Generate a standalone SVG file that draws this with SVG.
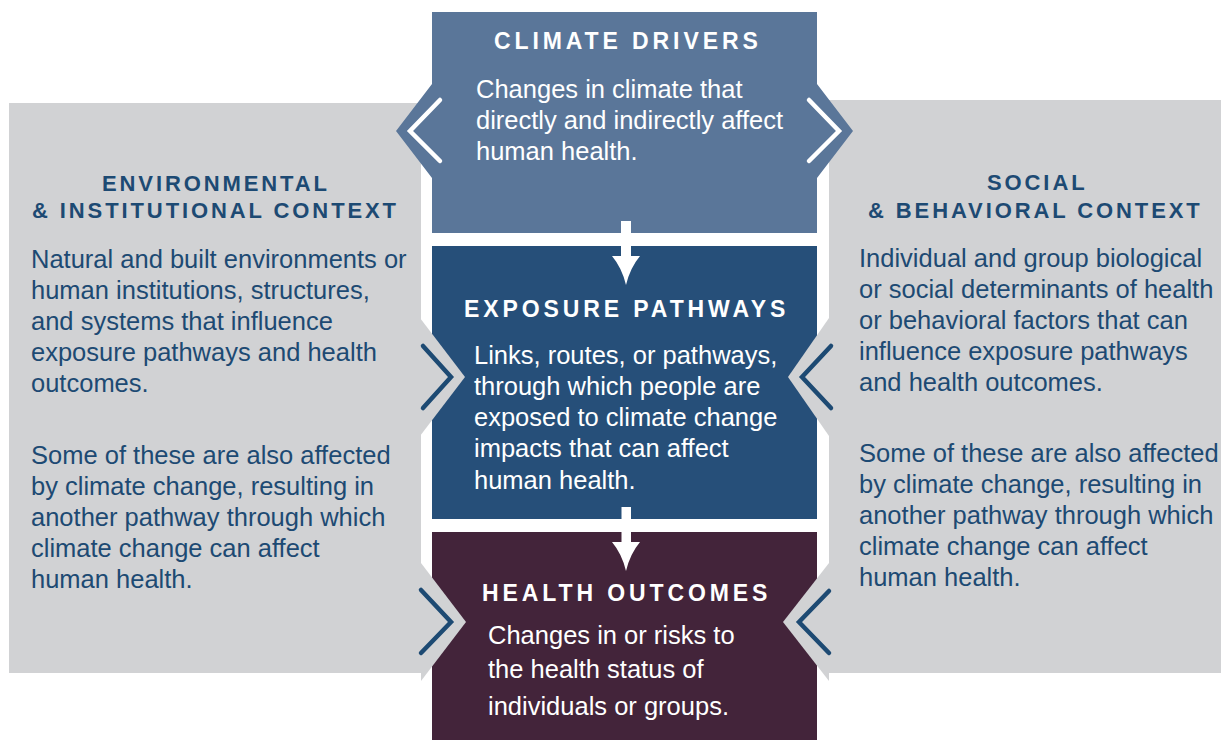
<svg xmlns="http://www.w3.org/2000/svg" width="1221" height="740" viewBox="0 0 1221 740">
<style>
.panel{fill:#d1d2d4}
.title{font-family:"Liberation Sans",Arial,sans-serif;font-weight:bold;font-size:23px;letter-spacing:3.9px;fill:#ffffff}
.ptitle{font-family:"Liberation Sans",Arial,sans-serif;font-weight:bold;font-size:22px;letter-spacing:2.9px;fill:#1d4a73}
.body{font-family:"Liberation Sans",Arial,sans-serif;font-size:25.5px;fill:#ffffff}
.pbody{font-family:"Liberation Sans",Arial,sans-serif;font-size:25.5px;fill:#1d4a73}
.chevW{fill:none;stroke:#ffffff;stroke-width:4.5;stroke-linecap:round;stroke-linejoin:miter}
.chevD{fill:none;stroke:#1d4a73;stroke-width:4.5;stroke-linecap:round;stroke-linejoin:miter}
.arrow{fill:#ffffff}
</style>
<rect width="1221" height="740" fill="#ffffff"/>

<g id="env-context">
  <rect class="panel" x="9" y="103" width="412" height="570"/>
  <text class="ptitle" x="102" y="191">ENVIRONMENTAL</text>
  <text class="ptitle" x="32" y="218">&amp; INSTITUTIONAL CONTEXT</text>
  <text class="pbody" x="31" y="268">Natural and built environments or</text>
  <text class="pbody" x="31" y="299">human institutions, structures,</text>
  <text class="pbody" x="31" y="330">and systems that influence</text>
  <text class="pbody" x="31" y="361">exposure pathways and health</text>
  <text class="pbody" x="31" y="392">outcomes.</text>
  <text class="pbody" x="31" y="464">Some of these are also affected</text>
  <text class="pbody" x="31" y="495">by climate change, resulting in</text>
  <text class="pbody" x="31" y="526">another pathway through which</text>
  <text class="pbody" x="31" y="557">climate change can affect</text>
  <text class="pbody" x="31" y="588">human health.</text>
</g>

<g id="social-context">
  <rect class="panel" x="829" y="100" width="392" height="573"/>
  <text class="ptitle" x="987" y="190">SOCIAL</text>
  <text class="ptitle" x="868" y="218">&amp; BEHAVIORAL CONTEXT</text>
  <text class="pbody" x="859" y="267">Individual and group biological</text>
  <text class="pbody" x="859" y="298">or social determinants of health</text>
  <text class="pbody" x="859" y="329">or behavioral factors that can</text>
  <text class="pbody" x="859" y="360">influence exposure pathways</text>
  <text class="pbody" x="859" y="391">and health outcomes.</text>
  <text class="pbody" x="859" y="462">Some of these are also affected</text>
  <text class="pbody" x="859" y="493">by climate change, resulting in</text>
  <text class="pbody" x="859" y="524">another pathway through which</text>
  <text class="pbody" x="859" y="555">climate change can affect</text>
  <text class="pbody" x="859" y="586">human health.</text>
</g>

<g id="climate-drivers">
  <polygon fill="#5a7699" points="432,12 817,12 817,84 853,131 817,178 817,233 432,233 432,178 396,131 432,84"/>
  <text class="title" x="494" y="49">CLIMATE DRIVERS</text>
  <text class="body" x="476" y="98">Changes in climate that</text>
  <text class="body" x="476" y="129">directly and indirectly affect</text>
  <text class="body" x="476" y="160">human health.</text>
</g>

<g id="exposure-pathways">
  <rect fill="#264f79" x="432" y="246" width="385" height="273"/>
  <text class="title" x="464" y="317">EXPOSURE PATHWAYS</text>
  <text class="body" x="474" y="364">Links, routes, or pathways,</text>
  <text class="body" x="474" y="395">through which people are</text>
  <text class="body" x="474" y="426">exposed to climate change</text>
  <text class="body" x="474" y="457">impacts that can affect</text>
  <text class="body" x="474" y="489">human health.</text>
</g>

<g id="health-outcomes">
  <rect fill="#43243a" x="432" y="532" width="385" height="208"/>
  <text class="title" x="482" y="601">HEALTH OUTCOMES</text>
  <text class="body" x="488" y="644">Changes in or risks to</text>
  <text class="body" x="488" y="678">the health status of</text>
  <text class="body" x="488" y="715">individuals or groups.</text>
</g>

<g id="env-context-pointers">
  <polygon class="panel" points="420,318 465,377 420,436"/>
  <polygon class="panel" points="421,563 466,622 421,681"/>
</g>
<g id="social-context-pointers">
  <polygon class="panel" points="829,318 788,377 829,436"/>
  <polygon class="panel" points="829,563 783,622 829,681"/>
</g>

<g id="connectors">
  <polyline class="chevW" points="440,100 410,131 440,161"/>
  <polyline class="chevW" points="809,100 839,131 809,161"/>
  <polyline class="chevD" points="423,346 451,377 423,408"/>
  <polyline class="chevD" points="831,346 802,377 831,408"/>
  <polyline class="chevD" points="421,590 451,622 421,653"/>
  <polyline class="chevD" points="829,591 799,622 829,653"/>
  <rect class="arrow" x="621" y="221" width="10" height="38"/>
  <path class="arrow" d="M612,256 L640,256 Q630,268 626,285 Q622,268 612,256 Z"/>
  <rect class="arrow" x="621.5" y="507" width="9.5" height="38"/>
  <path class="arrow" d="M612,542 L640,542 Q630,554 626,571 Q622,554 612,542 Z"/>
</g>
</svg>
